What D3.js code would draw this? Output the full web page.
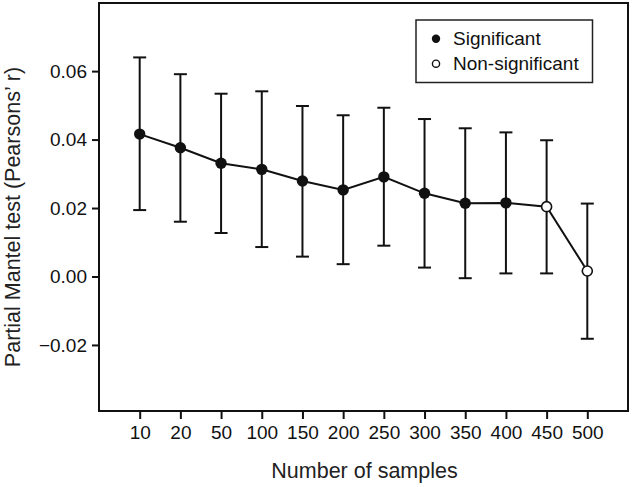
<!DOCTYPE html>
<html>
<head>
<meta charset="utf-8">
<script src="https://cdn.jsdelivr.net/npm/d3@7"></script>
<style>
  html, body { margin: 0; padding: 0; background: #fff; }
  svg { display: block; font-family: "Liberation Sans", Arial, sans-serif; }
</style>
</head>
<body>
<svg id="chart" width="633" height="487"></svg>
<script>
// sample sizes (x categories)
const samples = ["10", "20", "50", "100", "150", "200", "250", "300", "350", "400", "450", "500"];
// partial Mantel r (mean) with lower / upper bounds of the error bar
const meanR  = [0.0416, 0.0376, 0.0331, 0.0313, 0.0279, 0.0253, 0.0291, 0.0243, 0.0214, 0.0215, 0.0204, 0.0016];
const lowerR = [0.0194, 0.0160, 0.0127, 0.0086, 0.0058, 0.0036, 0.0090, 0.0026, -0.0005, 0.0009, 0.0009, -0.0182];
const upperR = [0.0640, 0.0591, 0.0534, 0.0541, 0.0498, 0.0471, 0.0493, 0.0460, 0.0433, 0.0421, 0.0398, 0.0213];
const significant = [true, true, true, true, true, true, true, true, true, true, false, false];
const yTicks = [-0.02, 0, 0.02, 0.04, 0.06];
const legendItems = [
  { label: "Significant", filled: true },
  { label: "Non-significant", filled: false }
];

const data = samples.map((s, i) => ({
  s, mean: meanR[i], lo: lowerR[i], hi: upperR[i], sig: significant[i]
}));

const box = { left: 99, right: 628, top: 3, bottom: 411 };
const ink = "#111";

const svg = d3.select("#chart");

const x = d3.scalePoint()
  .domain(samples)
  .range([box.left, box.right])
  .padding(1);

const y = d3.scaleLinear()
  .domain([-0.0393, 0.0799])
  .range([box.bottom, box.top]);

// axes
const xAxis = svg.append("g")
  .attr("transform", `translate(0,${box.bottom})`)
  .call(d3.axisBottom(x).tickSize(8).tickSizeOuter(0).tickPadding(7));

const yAxis = svg.append("g")
  .attr("transform", `translate(${box.left},0)`)
  .call(d3.axisLeft(y).tickValues(yTicks).tickFormat(d3.format(".2f"))
    .tickSize(7).tickSizeOuter(0).tickPadding(5));

[xAxis, yAxis].forEach(g => {
  g.select(".domain").remove();
  g.selectAll(".tick line").attr("stroke", ink).attr("stroke-width", 2);
  g.selectAll(".tick text").attr("fill", ink).attr("font-size", 19)
    .attr("font-family", "'Liberation Sans', Arial, sans-serif");
});

// frame
svg.append("rect")
  .attr("x", box.left).attr("y", box.top)
  .attr("width", box.right - box.left).attr("height", box.bottom - box.top)
  .attr("fill", "none").attr("stroke", ink).attr("stroke-width", 2);

// error bars
const cap = 6.5;
const bars = svg.append("g").attr("stroke", ink).attr("stroke-width", 2);
bars.selectAll("line.v").data(data).join("line")
  .attr("x1", d => x(d.s)).attr("x2", d => x(d.s))
  .attr("y1", d => y(d.lo)).attr("y2", d => y(d.hi));
bars.selectAll("line.t").data(data).join("line")
  .attr("x1", d => x(d.s) - cap).attr("x2", d => x(d.s) + cap)
  .attr("y1", d => y(d.hi)).attr("y2", d => y(d.hi));
bars.selectAll("line.b").data(data).join("line")
  .attr("x1", d => x(d.s) - cap).attr("x2", d => x(d.s) + cap)
  .attr("y1", d => y(d.lo)).attr("y2", d => y(d.lo));

// connecting line
svg.append("path")
  .datum(data)
  .attr("fill", "none").attr("stroke", ink).attr("stroke-width", 2)
  .attr("d", d3.line().x(d => x(d.s)).y(d => y(d.mean)));

// points
svg.append("g").selectAll("circle").data(data).join("circle")
  .attr("cx", d => x(d.s)).attr("cy", d => y(d.mean))
  .attr("r", d => d.sig ? 5.7 : 5)
  .attr("fill", d => d.sig ? ink : "#fff")
  .attr("stroke", ink).attr("stroke-width", d => d.sig ? 0 : 1.6);

// axis titles
svg.append("text")
  .attr("x", (box.left + box.right) / 2 + 1).attr("y", 478)
  .attr("text-anchor", "middle").attr("font-size", 21.5).attr("fill", "#222")
  .text("Number of samples");

svg.append("text")
  .attr("transform", "translate(20,217) rotate(-90)")
  .attr("text-anchor", "middle").attr("font-size", 21.5).attr("fill", "#222")
  .text("Partial Mantel test (Pearsons\u2019 r)");

// legend
const lg = svg.append("g");
lg.append("rect")
  .attr("x", 416).attr("y", 20).attr("width", 176.5).attr("height", 62.5)
  .attr("fill", "#fff").attr("stroke", "#222").attr("stroke-width", 1.5);
const rows = lg.selectAll("g.row").data(legendItems).join("g")
  .attr("transform", (d, i) => `translate(436,${38.7 + i * 25})`);
rows.append("circle")
  .attr("r", d => d.filled ? 4.2 : 3.6)
  .attr("fill", d => d.filled ? ink : "#fff")
  .attr("stroke", ink).attr("stroke-width", d => d.filled ? 0 : 1.4);
rows.append("text")
  .attr("x", 17).attr("y", 6.4)
  .attr("font-size", 19).attr("fill", ink)
  .text(d => d.label);
</script>
</body>
</html>
